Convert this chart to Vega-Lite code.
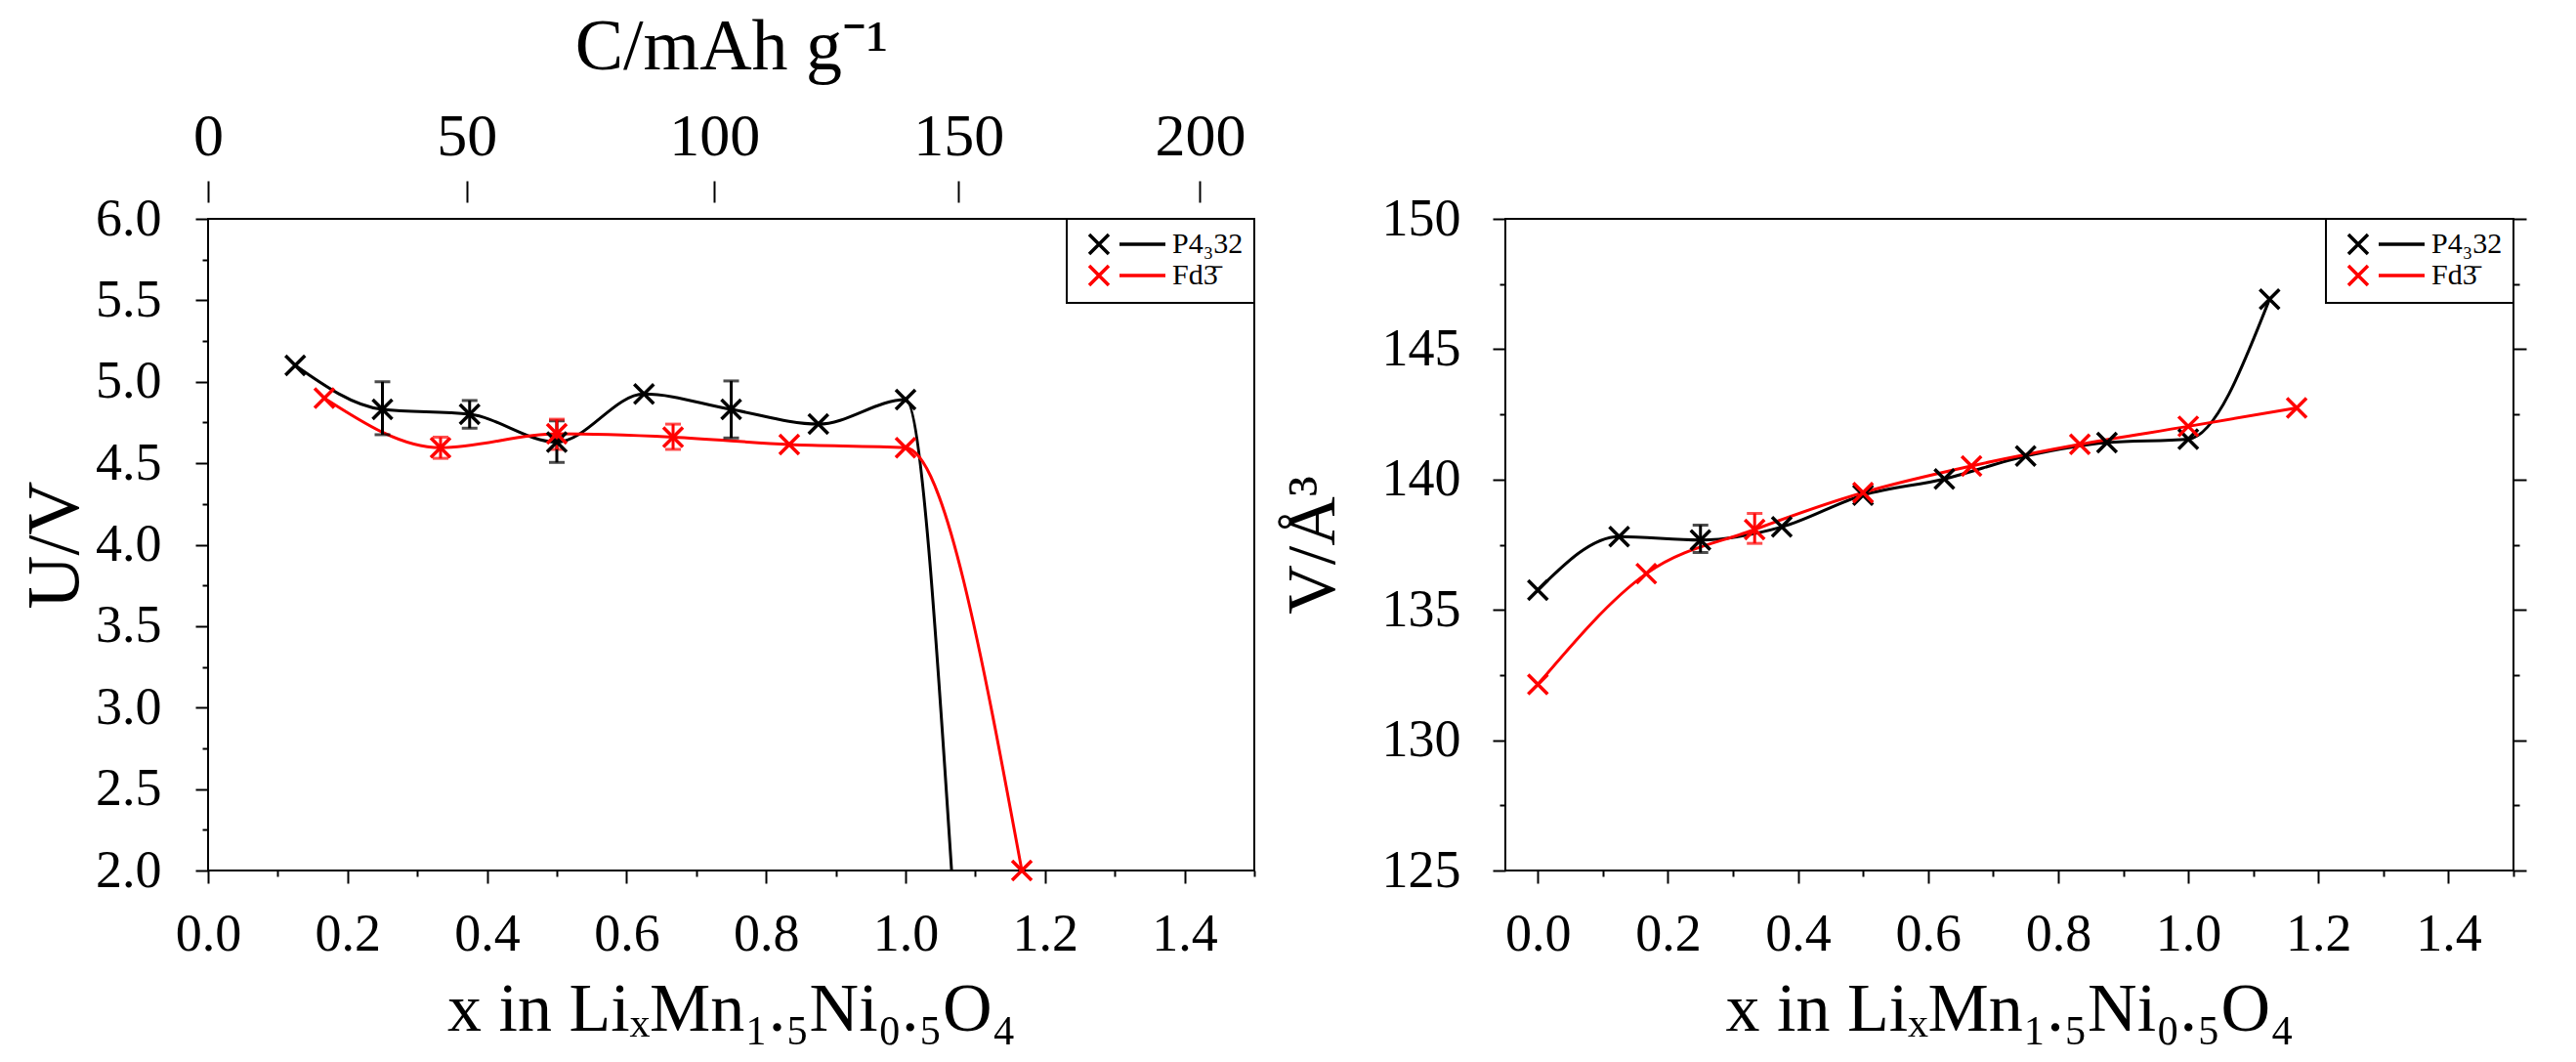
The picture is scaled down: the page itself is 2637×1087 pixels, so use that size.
{
  "$schema": "https://vega.github.io/schema/vega-lite/v6.json",
  "background": "white",
  "padding": {"left": 17, "top": 10, "right": 5, "bottom": 5},
  "datasets": {
    "curveL": [
      {"s": "P4₃32", "x": 0.125, "U": 5.10, "m": 1},
      {"s": "P4₃32", "x": 0.25, "U": 4.83, "m": 1},
      {"s": "P4₃32", "x": 0.375, "U": 4.80, "m": 1},
      {"s": "P4₃32", "x": 0.5, "U": 4.63, "m": 1},
      {"s": "P4₃32", "x": 0.625, "U": 4.925, "m": 1},
      {"s": "P4₃32", "x": 0.75, "U": 4.83, "m": 1},
      {"s": "P4₃32", "x": 0.875, "U": 4.74, "m": 1},
      {"s": "P4₃32", "x": 1.0, "U": 4.89, "m": 1},
      {"s": "P4₃32", "x": 1.066, "U": 2.0, "m": 0},
      {"s": "Fd3̄", "x": 0.1667, "U": 4.90, "m": 1},
      {"s": "Fd3̄", "x": 0.3333, "U": 4.595, "m": 1},
      {"s": "Fd3̄", "x": 0.5, "U": 4.68, "m": 1},
      {"s": "Fd3̄", "x": 0.6667, "U": 4.66, "m": 1},
      {"s": "Fd3̄", "x": 0.8333, "U": 4.615, "m": 1},
      {"s": "Fd3̄", "x": 1.0, "U": 4.595, "m": 1},
      {"s": "Fd3̄", "x": 1.1667, "U": 2.0, "m": 1}
    ],
    "errL": [
      {"s": "P4₃32", "x": 0.25, "lo": 4.675, "hi": 5.0},
      {"s": "P4₃32", "x": 0.375, "lo": 4.715, "hi": 4.885},
      {"s": "P4₃32", "x": 0.5, "lo": 4.505, "hi": 4.76},
      {"s": "P4₃32", "x": 0.75, "lo": 4.655, "hi": 5.005},
      {"s": "Fd3̄", "x": 0.3333, "lo": 4.53, "hi": 4.66},
      {"s": "Fd3̄", "x": 0.5, "lo": 4.585, "hi": 4.77},
      {"s": "Fd3̄", "x": 0.6667, "lo": 4.585, "hi": 4.74}
    ],
    "curveR": [
      {"s": "P4₃32", "x": 0.0, "V": 135.76},
      {"s": "P4₃32", "x": 0.125, "V": 137.81},
      {"s": "P4₃32", "x": 0.25, "V": 137.68},
      {"s": "P4₃32", "x": 0.375, "V": 138.18},
      {"s": "P4₃32", "x": 0.5, "V": 139.4},
      {"s": "P4₃32", "x": 0.625, "V": 140.02},
      {"s": "P4₃32", "x": 0.75, "V": 140.9},
      {"s": "P4₃32", "x": 0.875, "V": 141.42},
      {"s": "P4₃32", "x": 1.0, "V": 141.55},
      {"s": "P4₃32", "x": 1.125, "V": 146.92},
      {"s": "Fd3̄", "x": 0.0, "V": 132.14},
      {"s": "Fd3̄", "x": 0.1667, "V": 136.39},
      {"s": "Fd3̄", "x": 0.3333, "V": 138.08},
      {"s": "Fd3̄", "x": 0.5, "V": 139.5},
      {"s": "Fd3̄", "x": 0.6667, "V": 140.52},
      {"s": "Fd3̄", "x": 0.8333, "V": 141.35},
      {"s": "Fd3̄", "x": 1.0, "V": 142.04},
      {"s": "Fd3̄", "x": 1.1667, "V": 142.75}
    ],
    "errR": [
      {"s": "P4₃32", "x": 0.25, "lo": 137.2, "hi": 138.25},
      {"s": "Fd3̄", "x": 0.3333, "lo": 137.55, "hi": 138.7}
    ],
    "capTicks": [{"C": 0}, {"C": 50}, {"C": 100}, {"C": 150}, {"C": 200}],
    "volTicks": [{"v": 125}, {"v": 150}]
  },
  "hconcat": [
    {
      "width": 1071,
      "height": 667,
      "layer": [
        {
          "data": {"name": "curveL"},
          "mark": {"type": "line", "interpolate": "monotone", "strokeWidth": 3, "clip": true},
          "encoding": {
            "x": {
              "field": "x", "type": "quantitative",
              "scale": {"domain": [0, 1.5], "nice": false, "zero": false},
              "axis": {
                "orient": "bottom",
                "values": [0, 0.1, 0.2, 0.3, 0.4, 0.5, 0.6, 0.7, 0.8, 0.9, 1.0, 1.1, 1.2, 1.3, 1.4, 1.5],
                "labelExpr": "round(datum.value*10) % 2 == 0 && datum.value < 1.45 ? format(datum.value, '.1f') : ''",
                "tickDash": {"condition": {"test": "round(datum.value*10) % 2 == 1", "value": [6, 40]}, "value": []},
                "labelPadding": 25,
                "title": "x in LiₓMn₁.₅Ni₀.₅O₄",
                "titlePadding": 16
              }
            },
            "y": {
              "field": "U", "type": "quantitative",
              "scale": {"domain": [2, 6], "nice": false, "zero": false},
              "axis": {
                "orient": "left",
                "values": [2, 2.25, 2.5, 2.75, 3, 3.25, 3.5, 3.75, 4, 4.25, 4.5, 4.75, 5, 5.25, 5.5, 5.75, 6],
                "labelExpr": "round(datum.value*4) % 2 == 0 ? format(datum.value, '.1f') + '\u00a0\u00a0' : ''",
                "tickDash": {"condition": {"test": "round(datum.value*4) % 2 == 1", "value": [6, 40]}, "value": []},
                "labelAlign": "right",
                "labelPadding": 35,
                "title": "U/V",
                "titlePadding": 2,
                "titleFontSize": 76
              }
            },
            "color": {
              "field": "s", "type": "nominal",
              "scale": {"domain": ["P4₃32", "Fd3̄"], "range": ["#000000", "#ff0000"]},
              "legend": null
            }
          }
        },
        {
          "data": {"name": "errL"},
          "mark": {"type": "errorbar", "thickness": 3, "ticks": {"size": 16, "thickness": 3}},
          "encoding": {
            "x": {"field": "x", "type": "quantitative", "scale": {"domain": [0, 1.5], "nice": false, "zero": false}, "axis": null},
            "y": {"field": "lo", "type": "quantitative", "scale": {"domain": [2, 6], "nice": false, "zero": false}, "axis": null},
            "y2": {"field": "hi"},
            "color": {
              "field": "s", "type": "nominal",
              "scale": {"domain": ["P4₃32", "Fd3̄"], "range": ["#000000", "#ff0000"]},
              "legend": null
            }
          }
        },
        {
          "data": {"name": "curveL"},
          "transform": [{"filter": "datum.m == 1"}],
          "mark": {"type": "point", "shape": "M-1,-1L1,1M-1,1L1,-1", "size": 400, "strokeWidth": 3.5, "filled": false, "opacity": 1},
          "encoding": {
            "x": {"field": "x", "type": "quantitative", "scale": {"domain": [0, 1.5], "nice": false, "zero": false}, "axis": null},
            "y": {"field": "U", "type": "quantitative", "scale": {"domain": [2, 6], "nice": false, "zero": false}, "axis": null},
            "color": {
              "field": "s", "type": "nominal",
              "scale": {"domain": ["P4₃32", "Fd3̄"], "range": ["#000000", "#ff0000"]},
              "legend": {
                "title": null,
                "orient": "top-right",
                "offset": 0,
                "padding": 11,
                "symbolOffset": 7,
                "labelOffset": 60,
                "rowPadding": -6,
                "labelFont": "Liberation Serif",
                "labelFontSize": 30,
                "labelColor": "black",
                "labelExpr": "datum.label + '\u00a0\u00a0\u00a0\u00a0\u00a0'",
                "symbolType": "M-1,-1L1,1M-1,1L1,-1M2.1,0L6.8,0",
                "symbolSize": 400,
                "symbolStrokeWidth": 3.5,
                "strokeColor": "black",
                "fillColor": "white"
              }
            }
          }
        },
        {
          "data": {"name": "capTicks"},
          "mark": {"type": "point", "opacity": 0},
          "encoding": {
            "x": {
              "field": "C", "type": "quantitative",
              "scale": {"type": "pow", "exponent": 0.97, "domain": [0, 211.3], "nice": false, "zero": false},
              "axis": {
                "orient": "top",
                "values": [0, 50, 100, 150, 200],
                "offset": 17,
                "tickSize": 22,
                "labelFontSize": 62,
                "labelPadding": 14,
                "title": "C/mAh g⁻¹",
                "titleFontSize": 74,
                "titlePadding": 22
              }
            }
          }
        }
      ],
      "resolve": {
        "scale": {"x": "independent", "y": "independent", "color": "independent"},
        "axis": {"x": "independent", "y": "independent"},
        "legend": {"color": "independent"}
      }
    },
    {
      "width": 1032,
      "height": 667,
      "layer": [
        {
          "data": {"name": "curveR"},
          "mark": {"type": "line", "interpolate": "monotone", "strokeWidth": 3, "clip": true},
          "encoding": {
            "x": {
              "field": "x", "type": "quantitative",
              "scale": {"domain": [-0.05, 1.5], "nice": false, "zero": false},
              "axis": {
                "orient": "bottom",
                "values": [0, 0.1, 0.2, 0.3, 0.4, 0.5, 0.6, 0.7, 0.8, 0.9, 1.0, 1.1, 1.2, 1.3, 1.4, 1.5],
                "labelExpr": "round(datum.value*10) % 2 == 0 && datum.value < 1.45 ? format(datum.value, '.1f') : ''",
                "tickDash": {"condition": {"test": "round(datum.value*10) % 2 == 1", "value": [6, 40]}, "value": []},
                "labelPadding": 25,
                "title": "x in LiₓMn₁.₅Ni₀.₅O₄",
                "titlePadding": 16
              }
            },
            "y": {
              "field": "V", "type": "quantitative",
              "scale": {"domain": [125, 150], "nice": false, "zero": false},
              "axis": {
                "orient": "left",
                "values": [125, 127.5, 130, 132.5, 135, 137.5, 140, 142.5, 145, 147.5, 150],
                "labelExpr": "datum.value % 5 == 0 ? format(datum.value, 'd') : ''",
                "tickDash": {"condition": {"test": "datum.value % 5 != 0", "value": [6, 40]}, "value": []},
                "labelAlign": "right",
                "labelPadding": 33,
                "title": "V/Å³",
                "titlePadding": 34
              }
            },
            "color": {
              "field": "s", "type": "nominal",
              "scale": {"domain": ["P4₃32", "Fd3̄"], "range": ["#000000", "#ff0000"]},
              "legend": null
            }
          }
        },
        {
          "data": {"name": "errR"},
          "mark": {"type": "errorbar", "thickness": 3, "ticks": {"size": 16, "thickness": 3}},
          "encoding": {
            "x": {"field": "x", "type": "quantitative", "scale": {"domain": [-0.05, 1.5], "nice": false, "zero": false}, "axis": null},
            "y": {"field": "lo", "type": "quantitative", "scale": {"domain": [125, 150], "nice": false, "zero": false}, "axis": null},
            "y2": {"field": "hi"},
            "color": {
              "field": "s", "type": "nominal",
              "scale": {"domain": ["P4₃32", "Fd3̄"], "range": ["#000000", "#ff0000"]},
              "legend": null
            }
          }
        },
        {
          "data": {"name": "curveR"},
          "mark": {"type": "point", "shape": "M-1,-1L1,1M-1,1L1,-1", "size": 400, "strokeWidth": 3.5, "filled": false, "opacity": 1},
          "encoding": {
            "x": {"field": "x", "type": "quantitative", "scale": {"domain": [-0.05, 1.5], "nice": false, "zero": false}, "axis": null},
            "y": {"field": "V", "type": "quantitative", "scale": {"domain": [125, 150], "nice": false, "zero": false}, "axis": null},
            "color": {
              "field": "s", "type": "nominal",
              "scale": {"domain": ["P4₃32", "Fd3̄"], "range": ["#000000", "#ff0000"]},
              "legend": {
                "title": null,
                "orient": "top-right",
                "offset": 0,
                "padding": 11,
                "symbolOffset": 7,
                "labelOffset": 60,
                "rowPadding": -6,
                "labelFont": "Liberation Serif",
                "labelFontSize": 30,
                "labelColor": "black",
                "labelExpr": "datum.label + '\u00a0\u00a0\u00a0\u00a0\u00a0'",
                "symbolType": "M-1,-1L1,1M-1,1L1,-1M2.1,0L6.8,0",
                "symbolSize": 400,
                "symbolStrokeWidth": 3.5,
                "strokeColor": "black",
                "fillColor": "white"
              }
            }
          }
        },
        {
          "data": {"name": "volTicks"},
          "mark": {"type": "point", "opacity": 0},
          "encoding": {
            "y": {
              "field": "v", "type": "quantitative",
              "scale": {"domain": [125, 150], "nice": false, "zero": false},
              "axis": {
                "orient": "right",
                "values": [125, 127.5, 130, 132.5, 135, 137.5, 140, 142.5, 145, 147.5, 150],
                "labels": false,
                "title": null,
                "tickDash": {"condition": {"test": "datum.value % 5 != 0", "value": [6, 40]}, "value": []}
              }
            }
          }
        }
      ],
      "resolve": {
        "scale": {"x": "independent", "y": "independent", "color": "independent"},
        "axis": {"x": "independent", "y": "independent"},
        "legend": {"color": "independent"}
      }
    }
  ],
  "spacing": 257,
  "bounds": "flush",
  "resolve": {"scale": {"color": "independent"}, "legend": {"color": "independent"}},
  "config": {
    "font": "Liberation Serif",
    "view": {"stroke": "black", "strokeWidth": 2},
    "axis": {
      "domain": false,
      "grid": false,
      "ticks": true,
      "tickColor": "black",
      "tickWidth": 2,
      "tickSize": 13,
      "labelFont": "Liberation Serif",
      "labelFontSize": 54,
      "labelColor": "black",
      "labelFlush": false,
      "labelOverlap": false,
      "titleFont": "Liberation Serif",
      "titleFontSize": 70,
      "titleFontWeight": "normal",
      "titleColor": "black"
    },
    "legend": {
      "strokeColor": "black",
      "fillColor": "white",
      "strokeWidth": 2
    }
  }
}
